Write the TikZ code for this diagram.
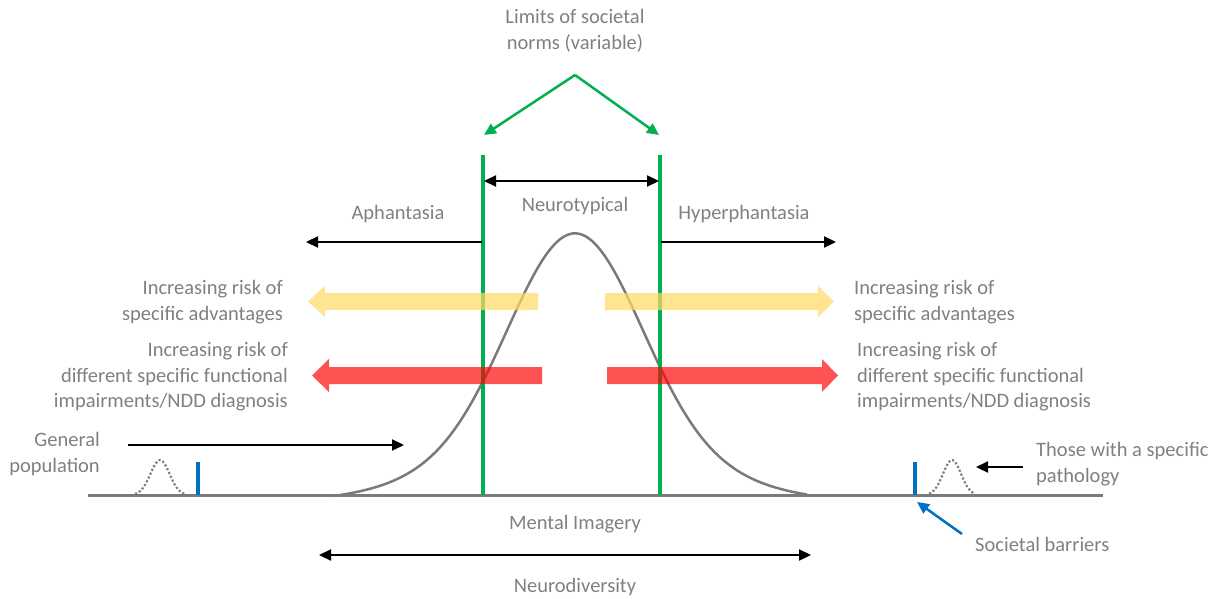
\documentclass[tikz,border=0pt]{standalone}
\usepackage{fontspec}
\setmainfont{Carlito}
\usetikzlibrary{arrows.meta}
\definecolor{txtgray}{HTML}{808080}
\definecolor{lgreen}{HTML}{00B050}
\definecolor{lblue}{HTML}{0070C0}
\definecolor{advyellow}{HTML}{FFD966}
\definecolor{curvegray}{HTML}{7A7A7A}
\tikzset{
  lbl/.style={text=txtgray, inner sep=0pt, font=\fontsize{20.5}{25.5}\selectfont},
  blackarrow/.style={draw=black, line width=2.2pt, -{Triangle[length=12pt,width=11pt]}},
  dblarrow/.style={draw=black, line width=2.2pt, {Triangle[length=12pt,width=11pt]}-{Triangle[length=12pt,width=11pt]}},
  greenarrow/.style={draw=lgreen, line width=2.5pt, -{Triangle[length=12pt,width=11pt]}},
  bluearrow/.style={draw=lblue, line width=2.5pt, -{Triangle[length=12pt,width=11pt]}},
  normline/.style={draw=lgreen, line width=4pt},
  barrier/.style={draw=lblue, line width=4pt},
  basegray/.style={draw=curvegray, line width=3pt},
  curve/.style={draw=curvegray, line width=2.5pt},
  smalldist/.style={draw=gray, line width=2.2pt, dotted},
  yellowarrow/.style={fill=advyellow, fill opacity=0.72},
  redarrow/.style={fill=red, fill opacity=0.68},
}
\begin{document}
\begin{tikzpicture}[x=1pt,y=-1pt]
\useasboundingbox (0,0) rectangle (1224,599);

% baseline
\coordinate (b0) at (88,495);
\coordinate (b1) at (1103,495);
\draw[basegray] (b0) -- (b1);

% main curve
\draw[curve] plot[domain=-240:232, samples=150] ({575+\x},{495-1.03*(200*exp(-(\x/65)*(\x/65)/2)+62*exp(-(\x/115)*(\x/115)/2)-8)});

% small dotted distributions
\draw[smalldist] plot[domain=-25:25, samples=30] ({160+\x},{495-35*exp(-(\x/9.5)*(\x/9.5)/2)});
\draw[smalldist] plot[domain=-23:23, samples=30] ({952+\x},{495-35*exp(-(\x/9)*(\x/9)/2)});

% societal barriers ticks
\coordinate (bl0) at (198,462); \coordinate (bl1) at (198,495);
\coordinate (br0) at (915,462); \coordinate (br1) at (915,495);
\draw[barrier] (bl0) -- (bl1);
\draw[barrier] (br0) -- (br1);

% green norm lines
\coordinate (gl0) at (483,155); \coordinate (gl1) at (483,495);
\coordinate (gr0) at (660,155); \coordinate (gr1) at (660,495);
\draw[normline] (gl0) -- (gl1);
\draw[normline] (gr0) -- (gr1);

% wide arrows
\fill[yellowarrow] (538,293) -- (325,293) -- (325,286) -- (308,301.5) -- (325,317) -- (325,310) -- (538,310) -- cycle;
\fill[yellowarrow] (605,293) -- (818,293) -- (818,286) -- (834,301.5) -- (818,317) -- (818,310) -- (605,310) -- cycle;
\fill[redarrow] (542,367) -- (329,367) -- (329,359) -- (312,375.5) -- (329,392) -- (329,384) -- (542,384) -- cycle;
\fill[redarrow] (607,367) -- (822,367) -- (822,359) -- (838,375.5) -- (822,392) -- (822,384) -- (607,384) -- cycle;

% texts
\node[lbl, align=center] (limits) at (575,31) {Limits of societal\\norms (variable)};
\node[lbl] (neuro) at (575,206) {Neurotypical};
\node[lbl] (aph) at (398,214) {Aphantasia};
\node[lbl] (hyp) at (744,214) {Hyperphantasia};
\node[lbl, align=right, anchor=east] (advL) at (283,302) {Increasing risk of\\specific advantages};
\node[lbl, align=right, anchor=east] (riskL) at (288,377) {Increasing risk of\\different specific functional\\impairments/NDD diagnosis};
\node[lbl, align=left, anchor=west] (advR) at (854,302) {Increasing risk of\\specific advantages};
\node[lbl, align=left, anchor=west] (riskR) at (857,377) {Increasing risk of\\different specific functional\\impairments/NDD diagnosis};
\node[lbl, align=right, anchor=east] (gen) at (100,454) {General\\population};
\node[lbl, align=left, anchor=west] (those) at (1036,464) {Those with a specific\\pathology};
\node[lbl, anchor=west] (barr) at (975,544) {Societal barriers};
\node[lbl] (mental) at (575,524) {Mental Imagery};
\node[lbl] (ndiv) at (575,587) {Neurodiversity};

% green arrows from limits
\coordinate (gtop) at (575,75);
\coordinate (gtl) at (484,135);
\coordinate (gtr) at (659,135);
\draw[greenarrow] (gtop) -- (gtl);
\draw[greenarrow] (gtop) -- (gtr);

% neurotypical span
\coordinate (n0) at (484,181); \coordinate (n1) at (659,181);
\draw[dblarrow] (n0) -- (n1);

% aphantasia / hyperphantasia
\coordinate (a0) at (482,242); \coordinate (a1) at (306,242);
\coordinate (h0) at (661,242); \coordinate (h1) at (836,242);
\draw[blackarrow] (a0) -- (a1);
\draw[blackarrow] (h0) -- (h1);

% general population arrow
\coordinate (g0) at (128,445); \coordinate (g1) at (404,445);
\draw[blackarrow] (g0) -- (g1);

% pathology arrow
\coordinate (p0) at (1023,467); \coordinate (p1) at (976,467);
\draw[blackarrow] (p0) -- (p1);

% societal barriers arrow
\coordinate (s0) at (962,534); \coordinate (s1) at (917,502);
\draw[bluearrow] (s0) -- (s1);

% neurodiversity span
\coordinate (d0) at (319,555); \coordinate (d1) at (811,555);
\draw[dblarrow] (d0) -- (d1);
\end{tikzpicture}
\end{document}
